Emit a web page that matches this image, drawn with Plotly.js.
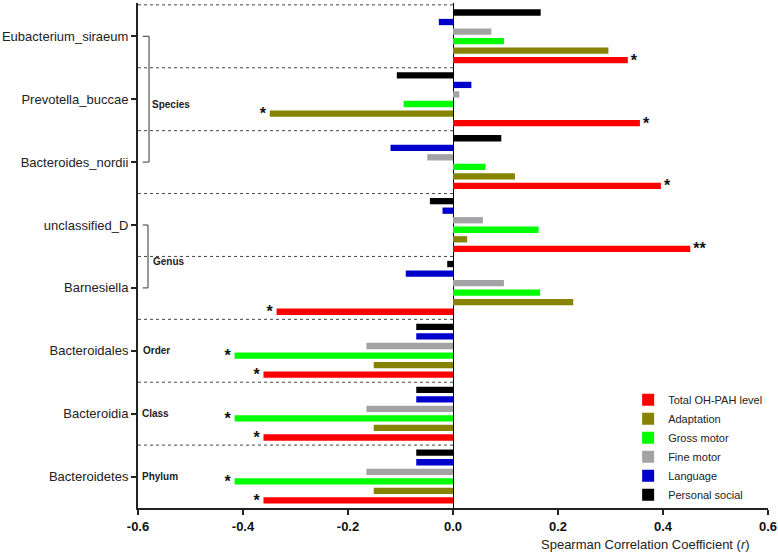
<!DOCTYPE html>
<html>
<head>
<meta charset="utf-8">
<script src="https://cdn.plot.ly/plotly-3.0.1.min.js"></script>
<style>html,body{margin:0;padding:0;background:#fff;}#chart{width:778px;height:555px;}</style>
</head>
<body>
<div id="chart"></div>
<script>
// Categories listed bottom to top
const categories = ['Bacteroidetes','Bacteroidia','Bacteroidales','Barnesiella','unclassified_D','Bacteroides_nordii','Prevotella_buccae','Eubacterium_siraeum'];
const seriesNames = ['Total OH-PAH level','Adaptation','Gross motor','Fine motor','Language','Personal social'];
const seriesColors = ['#ff0000','#858300','#00ff00','#a3a3a6','#0000cc','#000000'];

const totalOHPAH   = [-0.361, -0.361, -0.361, -0.336, 0.452, 0.396, 0.356, 0.333];
const adaptation   = [-0.151, -0.151, -0.151, 0.229, 0.027, 0.118, -0.349, 0.296];
const grossMotor   = [-0.416, -0.416, -0.416, 0.166, 0.163, 0.062, -0.094, 0.097];
const fineMotor    = [-0.165, -0.165, -0.165, 0.097, 0.057, -0.049, 0.012, 0.073];
const language     = [-0.070, -0.070, -0.070, -0.090, -0.020, -0.119, 0.035, -0.027];
const personalSoc  = [-0.070, -0.070, -0.070, -0.011, -0.044, 0.092, -0.107, 0.167];

const sigTotal     = ['*','*','*','*','**','*','*','*'];
const sigAdapt     = ['','','','','','','*',''];
const sigGross     = ['*','*','*','','','','',''];
const sigNone      = ['','','','','','','',''];

const xTicks = [-0.6,-0.4,-0.2,0.0,0.2,0.4,0.6];
const xTickText = ['-0.6','-0.4','-0.2','0.0','0.2','0.4','0.6'];

const values = [totalOHPAH, adaptation, grossMotor, fineMotor, language, personalSoc];
const sigs = [sigTotal, sigAdapt, sigGross, sigNone, sigNone, sigNone];

const traces = values.map((v,i)=>({
  type:'bar', orientation:'h', name: seriesNames[i],
  y: categories, x: v,
  marker:{color: seriesColors[i], line:{width:0}},
  text: sigs[i], textposition:'outside', constraintext:'none', cliponaxis:false,
  textfont:{family:'Liberation Sans, Arial, sans-serif', size:16, color:'#111', weight:'bold'},
  hoverinfo:'skip'
}));

const shapes = [];
// dashed group separators (left half)
for (let k=0;k<categories.length;k++){
  shapes.push({type:'line', xref:'x', yref:'y', x0:-0.6, x1:0, y0:k+0.5, y1:k+0.5,
    line:{color:'#444', width:1, dash:'dot'}, layer:'below'});
}
// brackets
function bracket(yTop, yBot, xv){
  const xs = -0.591;
  const c = {color:'#555', width:1.2};
  shapes.push({type:'line', xref:'x', yref:'y', x0:xv, x1:xv, y0:yTop, y1:yBot, line:c});
  shapes.push({type:'line', xref:'x', yref:'y', x0:xs, x1:xv, y0:yTop, y1:yTop, line:c});
  shapes.push({type:'line', xref:'x', yref:'y', x0:xs, x1:xv, y0:yBot, y1:yBot, line:c});
}
bracket(categories.indexOf('Eubacterium_siraeum'), categories.indexOf('Bacteroides_nordii'), -0.579);
bracket(categories.indexOf('unclassified_D'), categories.indexOf('Barnesiella'), -0.581);

const lblFont = {family:'Liberation Sans, Arial, sans-serif', size:10, color:'#222', weight:'bold'};
const annotations = [
  {xref:'x', yref:'y', x:-0.578, y:categories.indexOf('Prevotella_buccae'), yshift:-5, text:'<b>Species</b>', showarrow:false, xanchor:'left', font:lblFont},
  {xref:'x', yref:'y', x:-0.576, y:3.5, yshift:-5, text:'<b>Genus</b>', showarrow:false, xanchor:'left', font:lblFont},
  {xref:'x', yref:'y', x:-0.594, y:categories.indexOf('Bacteroidales'), text:'<b>Order</b>', showarrow:false, xanchor:'left', font:lblFont},
  {xref:'x', yref:'y', x:-0.596, y:categories.indexOf('Bacteroidia'), text:'<b>Class</b>', showarrow:false, xanchor:'left', font:lblFont},
  {xref:'x', yref:'y', x:-0.596, y:categories.indexOf('Bacteroidetes'), text:'<b>Phylum</b>', showarrow:false, xanchor:'left', font:lblFont},
  {xref:'paper', yref:'paper', x:0.806, y:-0.073, text:'Spearman Correlation Coefficient (<i>r</i>)', showarrow:false,
   xanchor:'center', yanchor:'middle', font:{family:'Liberation Sans, Arial, sans-serif', size:13, color:'#222'}}
];

const layout = {
  width:778, height:555,
  margin:{l:138, r:10, t:3, b:47},
  paper_bgcolor:'#fff', plot_bgcolor:'#fff',
  barmode:'group', bargap:0.09, bargroupgap:0.34,
  showlegend:true,
  legend:{x:0.778, y:0.243, xanchor:'left', yanchor:'top', bgcolor:'rgba(0,0,0,0)',
    font:{family:'Liberation Sans, Arial, sans-serif', size:11, color:'#222'}, traceorder:'normal'},
  xaxis:{range:[-0.6,0.6], tickvals:xTicks, ticktext:xTickText, showgrid:false,
    zeroline:true, zerolinecolor:'#000', zerolinewidth:1,
    showline:true, linecolor:'#222', linewidth:2, ticks:'outside', ticklen:5, tickwidth:2, tickcolor:'#222',
    tickfont:{family:'Liberation Sans, Arial, sans-serif', size:13, color:'#111', weight:'bold'}, fixedrange:true},
  yaxis:{type:'category', categoryorder:'array', categoryarray:categories, range:[-0.5,7.53],
    showgrid:false, zeroline:false, showline:true, linecolor:'#222', linewidth:2,
    ticks:'outside', ticklen:5, tickwidth:2, tickcolor:'#222',
    tickfont:{family:'Liberation Sans, Arial, sans-serif', size:13, color:'#222'}, fixedrange:true},
  shapes: shapes, annotations: annotations
};

Plotly.newPlot('chart', traces, layout, {staticPlot:true, displayModeBar:false});
</script>
</body>
</html>
